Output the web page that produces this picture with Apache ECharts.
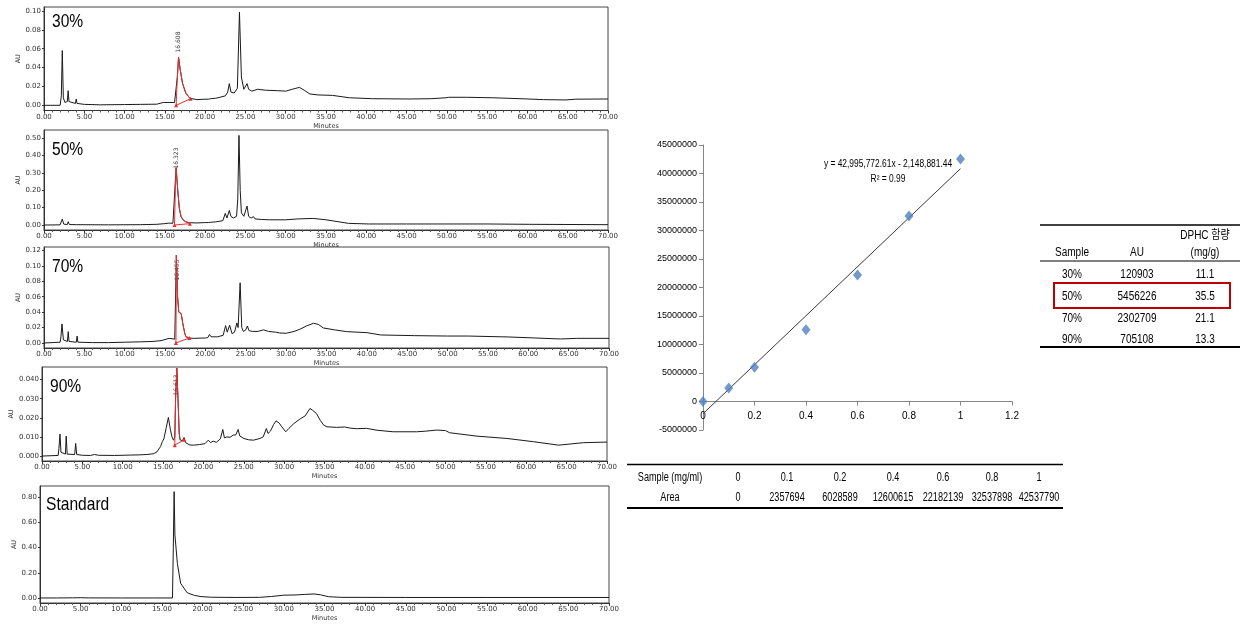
<!DOCTYPE html>
<html><head><meta charset="utf-8">
<script src="https://cdn.jsdelivr.net/npm/echarts@6/dist/echarts.min.js"></script>
<style>html,body{margin:0;padding:0;background:#fff}#c{width:1240px;height:635px}</style>
</head><body><div id="c"></div>
<script>
// ---------- chromatogram traces [minutes, AU] ----------
const trace30 = [[0,0],[2.0,0],[2.15,0.01],[2.27,0.058],[2.4,0.008],[2.6,0.003],[2.9,0.004],[3.0,0.0155],[3.1,0.004],[3.9,0.002],[4.0,0.0067],[4.1,0.002],[5,0.001],[7,0.0005],[10,0.0008],[12,0.001],[14,0.0012],[14.8,0.003],[16.2,0.003],[16.4,0.004],[16.55,0.03],[16.7,0.051],[16.9,0.038],[17.2,0.023],[17.6,0.013],[18.1,0.0075],[19,0.006],[20,0.0065],[20.4,0.0065],[20.5,0.0085],[20.7,0.007],[21.3,0.0075],[21.4,0.0095],[21.6,0.008],[22.5,0.01],[22.8,0.014],[23.0,0.023],[23.2,0.014],[23.6,0.013],[24.0,0.018],[24.26,0.0986],[24.5,0.03],[24.8,0.017],[25.0,0.018],[25.2,0.023],[25.4,0.017],[25.8,0.015],[26.5,0.017],[27.5,0.016],[29,0.0155],[30,0.015],[30.8,0.017],[31.7,0.019],[32.3,0.016],[33,0.012],[34,0.011],[35.8,0.0105],[37.9,0.008],[40.8,0.007],[45.3,0.0067],[48,0.007],[49.9,0.008],[50.2,0.0085],[52.4,0.0085],[55.7,0.008],[59.8,0.0068],[62,0.006],[64.8,0.0057],[66,0.0065],[70,0.0067]];
const peak30 = [[16.4,0.0],[16.55,0.03],[16.7,0.051],[16.9,0.038],[17.2,0.023],[17.6,0.013],[18.1,0.0075]];
const base30 = [[16.4,0.0],[18.2,0.007]];

const trace50 = [[0,0],[2.0,0.001],[2.15,0.01],[2.27,0.034],[2.45,0.005],[2.9,0.003],[3.0,0.019],[3.15,0.003],[4,0.002],[8,0.001],[12,0.002],[14,0.004],[15,0.008],[15.5,0.011],[16.0,0.01],[16.2,0.02],[16.4,0.33],[16.6,0.2],[16.8,0.095],[17.0,0.05],[17.25,0.03],[17.6,0.018],[18.1,0.013],[19,0.012],[20,0.014],[20.4,0.014],[20.5,0.02],[20.7,0.016],[21.3,0.018],[21.4,0.023],[21.6,0.02],[22.2,0.025],[22.5,0.067],[22.7,0.04],[23.0,0.084],[23.2,0.05],[23.5,0.04],[23.9,0.05],[24.05,0.15],[24.2,0.515],[24.35,0.2],[24.5,0.07],[24.8,0.05],[25.0,0.06],[25.2,0.109],[25.4,0.05],[25.7,0.04],[26.0,0.048],[26.2,0.035],[27,0.032],[28,0.03],[30,0.03],[31.5,0.035],[33.4,0.038],[35,0.03],[37.8,0.0095],[40.3,0.006],[45,0.006],[50,0.006],[55,0.006],[55.2,0.004],[60.3,0.004],[60.5,0.002],[70,0.002]];
const peak50 = [[16.2,0.0],[16.3,0.2],[16.4,0.33],[16.6,0.2],[16.8,0.095],[17.0,0.05],[17.25,0.03],[17.6,0.018],[18.1,0.013]];
const base50 = [[16.2,0.0],[18.1,0.008]];

const trace70 = [[0,0],[2.0,0.001],[2.1,0.008],[2.23,0.0247],[2.4,0.004],[2.9,0.002],[3.0,0.0147],[3.1,0.002],[4.0,0.001],[4.1,0.009],[4.2,0.001],[6,0.0005],[8,0.0005],[10,0.001],[12,0.0015],[13.5,0.002],[14.5,0.003],[15.0,0.0045],[15.5,0.006],[16.2,0.005],[16.3,0.006],[16.4,0.114],[16.55,0.06],[16.7,0.04],[17.0,0.038],[17.2,0.025],[17.45,0.012],[17.6,0.008],[17.7,0.009],[18.0,0.0065],[18.5,0.006],[20,0.0065],[20.3,0.007],[20.5,0.011],[20.7,0.008],[21.1,0.008],[21.3,0.0095],[21.5,0.008],[22.2,0.01],[22.5,0.0225],[22.7,0.014],[23.0,0.023],[23.3,0.012],[23.6,0.014],[23.9,0.026],[24.05,0.02],[24.3,0.078],[24.5,0.02],[24.7,0.015],[25.0,0.017],[25.2,0.022],[25.4,0.016],[25.8,0.015],[26.5,0.015],[27.2,0.017],[27.8,0.015],[28.7,0.014],[29.2,0.013],[30,0.0126],[31,0.015],[31.7,0.0178],[32.5,0.022],[33.4,0.0256],[34.0,0.024],[34.6,0.0195],[36,0.017],[37.5,0.0147],[40,0.0134],[41.7,0.0104],[45.9,0.0095],[50,0.009],[52.5,0.009],[57.5,0.0078],[60.8,0.0065],[64,0.0052],[66,0.006],[70,0.006]];
const peak70 = [[16.35,0],[16.4,0.114],[16.55,0.06],[16.7,0.04],[17.0,0.038],[17.2,0.025],[17.45,0.012],[17.6,0.008],[17.7,0.009],[18.0,0.0065]];
const base70 = [[16.35,0],[18.0,0.0065]];

const trace90 = [[0,0],[2.0,0.0003],[2.1,0.004],[2.23,0.0115],[2.35,0.002],[2.9,0.001],[3.0,0.0104],[3.12,0.001],[4.05,0.0008],[4.17,0.0066],[4.3,0.0008],[5,0.0004],[6,0.0003],[6.5,0.0008],[7,0.0004],[9,0.0003],[11,0.0005],[12,0.0006],[13,0.0008],[13.8,0.0012],[14.2,0.002],[14.7,0.005],[14.9,0.0075],[15.1,0.009],[15.4,0.015],[15.66,0.0202],[15.9,0.014],[16.1,0.01],[16.3,0.0083],[16.45,0.01],[16.55,0.03],[16.7,0.046],[16.85,0.03],[17.0,0.012],[17.1,0.0085],[17.4,0.008],[17.6,0.0097],[17.8,0.007],[18.3,0.0058],[18.8,0.0057],[19.5,0.006],[20.2,0.0065],[20.6,0.0083],[20.9,0.007],[21.2,0.0078],[21.6,0.0072],[22.1,0.009],[22.4,0.0139],[22.6,0.0095],[22.9,0.01],[23.3,0.0098],[23.7,0.011],[24.0,0.011],[24.3,0.0139],[24.5,0.0105],[25,0.0092],[25.6,0.0085],[26.2,0.0083],[27.0,0.0092],[27.4,0.01],[27.8,0.0144],[28.0,0.0118],[28.3,0.013],[28.7,0.0165],[29.0,0.0184],[29.4,0.0172],[29.7,0.0153],[30.2,0.0127],[30.6,0.0145],[31.2,0.017],[32.0,0.0195],[32.6,0.021],[33.2,0.0249],[33.5,0.024],[34.0,0.0223],[34.5,0.0185],[34.9,0.0162],[35.3,0.0153],[36.5,0.015],[37.5,0.0152],[38.2,0.0146],[39,0.0143],[40.2,0.0145],[41.5,0.0135],[43.5,0.0127],[46.4,0.0127],[47.5,0.013],[48.9,0.0136],[50.0,0.0133],[50.2,0.0138],[50.5,0.0122],[53.9,0.0104],[57.6,0.0092],[60.9,0.0075],[64.0,0.0057],[67.1,0.007],[70,0.0073]];
const peak90 = [[16.45,0.0057],[16.55,0.03],[16.7,0.046],[16.85,0.03],[17.0,0.012],[17.1,0.0085]];
const base90 = [[16.45,0.0057],[17.6,0.0085]];

const traceStd = [[0,0],[2,0],[4,0.001],[5,0.002],[6,0.0005],[10,0],[14,0],[16.3,0],[16.4,0.4],[16.5,0.845],[16.6,0.5],[16.9,0.275],[17.3,0.117],[18.1,0.042],[19,0.02],[19.8,0.011],[21,0.006],[24,0.004],[27,0.005],[28.5,0.012],[30,0.022],[31.5,0.024],[32.5,0.028],[33.7,0.032],[34.5,0.025],[35.5,0.01],[37,0.005],[45,0.004],[55,0.004],[70,0.004]];

// y tick labels of each chromatogram
const yTicks30 = [0,0.02,0.04,0.06,0.08,0.10];
const yTicks50 = [0,0.1,0.2,0.3,0.4,0.5];
const yTicks70 = [0,0.02,0.04,0.06,0.08,0.10,0.12];
const yTicks90 = [0,0.01,0.02,0.03,0.04];
const yTicksStd = [0,0.2,0.4,0.6,0.8];
const panelTitles = ['30%','50%','70%','90%','Standard'];
const peakLabels = ['16.608','16.323','16.455','16.613'];

// ---------- calibration ----------
const sampleConc = [0,0.1,0.2,0.4,0.6,0.8,1];
const areaValues = [0,2357694,6028589,12600615,22182139,32537898,42537790];
const trendX = [0,1];
const trendY = [-2148881.44, 40846891.17];
const equationText = 'y = 42,995,772.61x - 2,148,881.44';
const r2Text = 'R² = 0.99';

// ---------- result table ----------
const resultSamples = ['30%','50%','70%','90%'];
const resultAU = [120903,5456226,2302709,705108];
const resultDPHC = ['11.1','35.5','21.1','13.3'];

const SANS = "'Liberation Sans',Arial,sans-serif";
const KR = "'Liberation Sans','Noto Sans CJK KR',sans-serif";
const SX = 0.82;   // narrow look for titles
const TX = 0.76;   // narrow look for table text

const panels = [
  {tr:trace30, pk:peak30, bs:base30, ticks:yTicks30, dec:2, left:44, right:632, top:7, bottom:524.5, min:-0.0055, max:0.1042, gap:20, title:[52,21.5], pl:[178,42]},
  {tr:trace50, pk:peak50, bs:base50, ticks:yTicks50, dec:2, left:44, right:632, top:130, bottom:405, min:-0.0286, max:0.546, gap:20, title:[52,149.5], pl:[176,158]},
  {tr:trace70, pk:peak70, bs:base70, ticks:yTicks70, dec:2, left:44, right:631, top:247, bottom:287, min:-0.0065, max:0.1244, gap:20, title:[52,267], pl:[177,270]},
  {tr:trace90, pk:peak90, bs:base90, ticks:yTicks90, dec:3, left:42, right:633, top:367, bottom:174, min:-0.0026, max:0.0466, gap:23, title:[50,386.5], pl:[176,385]},
  {tr:traceStd, pk:null, bs:null, ticks:yTicksStd, dec:2, left:40, right:631, top:486, bottom:32, min:-0.04, max:0.89, gap:20, title:[46,505], pl:null}
];

const grid=[], xAxis=[], yAxis=[], series=[], graphic=[];
panels.forEach((p,i)=>{
  grid.push({left:p.left, right:p.right, top:p.top, bottom:p.bottom, show:true, borderColor:'#444', borderWidth:1, backgroundColor:'transparent'});
  xAxis.push({type:'value', gridIndex:i, min:0, max:70, interval:5,
    axisLine:{onZero:false, lineStyle:{color:'#333', width:1}},
    axisTick:{show:true, length:3, lineStyle:{color:'#333'}},
    minorTick:{show:true, splitNumber:5, length:2, lineStyle:{color:'#555'}},
    splitLine:{show:false},
    axisLabel:{fontSize:7, color:'#333', margin:3, formatter:v=>v.toFixed(2), fontFamily:'DejaVu Sans'},
    name:'Minutes', nameLocation:'middle', nameGap:12, nameTextStyle:{fontSize:6.5, color:'#333', fontFamily:'DejaVu Sans'}});
  yAxis.push({type:'value', gridIndex:i, min:p.min, max:p.max,
    axisLine:{show:true, onZero:false, lineStyle:{color:'#333', width:1}},
    axisTick:{show:true, length:2, customValues:p.ticks, lineStyle:{color:'#333'}},
    splitLine:{show:false},
    axisLabel:{fontSize:7, color:'#333', margin:3, customValues:p.ticks, formatter:v=>v.toFixed(p.dec), fontFamily:'DejaVu Sans'},
    name:'AU', nameLocation:'middle', nameRotate:90, nameGap:p.gap, nameTextStyle:{fontSize:6.5, color:'#333', fontFamily:'DejaVu Sans'}});
  series.push({type:'line', xAxisIndex:i, yAxisIndex:i, data:p.tr, showSymbol:false, silent:true,
    lineStyle:{color:'#1a1a1a', width:1}, z:3});
  if(p.pk){
    series.push({type:'line', xAxisIndex:i, yAxisIndex:i, data:p.pk, showSymbol:false, silent:true,
      lineStyle:{color:'#e53030', width:1}, z:4});
    series.push({type:'line', xAxisIndex:i, yAxisIndex:i, data:p.bs, showSymbol:true, symbol:'triangle', symbolSize:4, silent:true,
      itemStyle:{color:'#e53030'}, lineStyle:{color:'#e53030', width:1}, z:4});
  }
  graphic.push({type:'text', x:p.title[0], y:p.title[1], scaleX:SX, silent:true,
    style:{text:panelTitles[i], fontSize:19, fontFamily:SANS, fill:'#000', align:'left', verticalAlign:'middle'}});
  if(p.pl){
    graphic.push({type:'text', x:p.pl[0], y:p.pl[1], rotation:Math.PI/2, silent:true,
      style:{text:peakLabels[i], fontSize:6, fontFamily:'DejaVu Sans', fill:'#333', align:'center', verticalAlign:'middle'}});
  }
});

// calibration chart
const ci = panels.length;
grid.push({left:703, right:228, top:145, bottom:205, show:false});
xAxis.push({type:'value', gridIndex:ci, min:0, max:1.2, interval:0.2, position:'bottom', offset:-28.5,
  axisLine:{onZero:false, lineStyle:{color:'#868686', width:1}},
  axisTick:{show:true, length:4, lineStyle:{color:'#868686'}},
  splitLine:{show:false},
  axisLabel:{fontSize:10, color:'#000', margin:10, fontFamily:SANS, formatter:v=>String(+v.toFixed(1))}});
yAxis.push({type:'value', gridIndex:ci, min:-5000000, max:45000000, interval:5000000,
  axisLine:{show:true, onZero:false, lineStyle:{color:'#868686', width:1}},
  axisTick:{show:true, length:4, lineStyle:{color:'#868686'}},
  splitLine:{show:false},
  axisLabel:{fontSize:9, color:'#000', margin:6, fontFamily:SANS, formatter:v=>String(v)}});
series.push({type:'line', xAxisIndex:ci, yAxisIndex:ci, data:trendX.map((x,k)=>[x,trendY[k]]), showSymbol:false, silent:true,
  lineStyle:{color:'#3a3a3a', width:1}, z:3});
series.push({type:'scatter', xAxisIndex:ci, yAxisIndex:ci, data:sampleConc.map((x,k)=>[x,areaValues[k]]),
  symbol:'diamond', symbolSize:[9,11], itemStyle:{color:'#4F81BD'}, z:4});
graphic.push({type:'text', x:888, y:164, scaleX:0.84, silent:true, style:{text:equationText, fontSize:10, fontFamily:SANS, fill:'#000', align:'center', verticalAlign:'middle'}});
graphic.push({type:'text', x:888, y:179, scaleX:0.84, silent:true, style:{text:r2Text, fontSize:10, fontFamily:SANS, fill:'#000', align:'center', verticalAlign:'middle'}});

// calibration table
const colX = [670,738,787,840,893,943,992,1039];
graphic.push({type:'line', shape:{x1:627,y1:464.5,x2:1063,y2:464.5}, style:{stroke:'#000', lineWidth:1.5}, silent:true});
graphic.push({type:'line', shape:{x1:627,y1:508,x2:1063,y2:508}, style:{stroke:'#000', lineWidth:2}, silent:true});
const row1 = ['Sample (mg/ml)'].concat(sampleConc.map(String));
const row2 = ['Area'].concat(areaValues.map(String));
[row1,row2].forEach((row,r)=>{
  row.forEach((t,c)=>{
    graphic.push({type:'text', x:colX[c], y:r===0?478:498, scaleX:TX, silent:true,
      style:{text:t, fontSize:12, fontFamily:SANS, fill:'#000', align:'center', verticalAlign:'middle'}});
  });
});

// result table
const rx = [1072,1137,1205];
graphic.push({type:'line', shape:{x1:1040,y1:225,x2:1240,y2:225}, style:{stroke:'#000', lineWidth:1.5}, silent:true});
graphic.push({type:'line', shape:{x1:1040,y1:261,x2:1240,y2:261}, style:{stroke:'#000', lineWidth:1}, silent:true});
graphic.push({type:'line', shape:{x1:1040,y1:347,x2:1240,y2:347}, style:{stroke:'#000', lineWidth:2}, silent:true});
[['Sample',rx[0],253],['AU',rx[1],253],['DPHC 함량',rx[2],236],['(mg/g)',rx[2],253]].forEach(h=>{
  graphic.push({type:'text', x:h[1], y:h[2], scaleX:0.8, silent:true, style:{text:h[0], fontSize:12.5, fontFamily:KR, fill:'#000', align:'center', verticalAlign:'middle'}});
});
const rowY = [275,297,319,340];
resultSamples.forEach((s,k)=>{
  [s, String(resultAU[k]), resultDPHC[k]].forEach((t,c)=>{
    graphic.push({type:'text', x:rx[c], y:rowY[k], scaleX:0.8, silent:true, style:{text:t, fontSize:12.5, fontFamily:SANS, fill:'#000', align:'center', verticalAlign:'middle'}});
  });
});
graphic.push({type:'rect', shape:{x:1054,y:283,width:176,height:25}, style:{fill:'none', stroke:'#C00000', lineWidth:2}, silent:true});

const chart = echarts.init(document.getElementById('c'), null, {renderer:'canvas'});
chart.setOption({animation:false, backgroundColor:'#fff', grid, xAxis, yAxis, series, graphic});
</script>
</body></html>
